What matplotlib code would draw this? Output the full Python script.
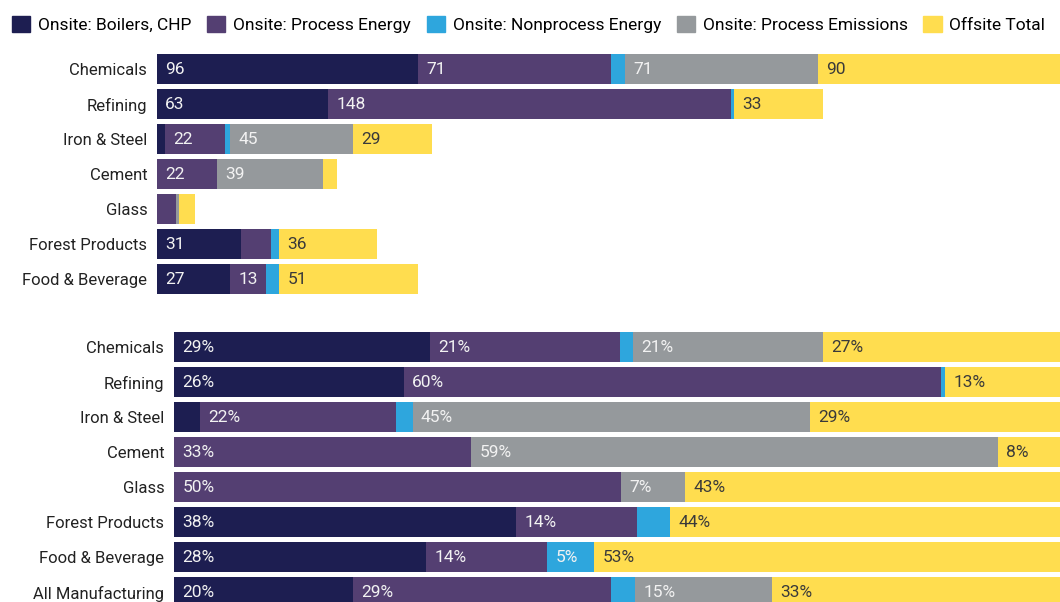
import matplotlib.pyplot as plt
import numpy as np

plt.rcParams["font.family"] = ["Roboto", "DejaVu Sans"]

series = [
    "Onsite: Boilers, CHP",
    "Onsite: Process Energy",
    "Onsite: Nonprocess Energy",
    "Onsite: Process Emissions",
    "Offsite Total",
]
colors = ["#1d1e51", "#543f72", "#2ea6dd", "#95999c", "#ffdd4f"]
text_colors = ["#f2f2f2", "#f2f2f2", "#f2f2f2", "#f2f2f2", "#3a3a3a"]

# top panel: absolute values
top_sectors = ["Chemicals", "Refining", "Iron & Steel", "Cement", "Glass",
               "Forest Products", "Food & Beverage"]
top_boilers = [96, 63, 3, 0, 0, 31, 27]
top_process = [71, 148, 22, 22, 7, 11, 13]
top_nonprocess = [5, 1, 2, 0, 0, 3, 5]
top_emissions = [71, 0, 45, 39, 1, 0, 0]
top_offsite = [90, 33, 29, 5, 6, 36, 51]

# bottom panel: shares (%)
pct_sectors = ["Chemicals", "Refining", "Iron & Steel", "Cement", "Glass",
               "Forest Products", "Food & Beverage", "All Manufacturing"]
pct_boilers = [28.8, 25.8, 2.9, 0, 0, 38.4, 28.3, 20.1]
pct_process = [21.3, 60.4, 22.0, 33.4, 50.2, 13.6, 13.6, 29.0]
pct_nonprocess = [1.5, 0.4, 1.9, 0, 0, 3.7, 5.3, 2.7]
pct_emissions = [21.3, 0, 44.7, 59.2, 7.2, 0, 0, 15.4]
pct_offsite = [27.0, 13.4, 28.8, 7.6, 42.6, 44.3, 52.8, 32.8]

W, H = 1060, 602
fig = plt.figure(figsize=(W / 100, H / 100), dpi=100)


def draw_panel(ax, sectors, cols, min_label, fmt, xmax):
    y = np.arange(len(sectors))
    left = np.zeros(len(sectors))
    for vals, c, tc in zip(cols, colors, text_colors):
        vals = np.array(vals, dtype=float)
        ax.barh(y, vals, left=left, height=0.83, color=c, linewidth=0)
        for yi, l, v in zip(y, left, vals):
            if v >= min_label:
                ax.annotate(fmt(v), (l, yi), xytext=(6, -0.5), textcoords="offset points",
                            ha="left", va="center", fontsize=12.5,
                            color=tc, annotation_clip=False)
        left += vals
    ax.set_yticks(y)
    ax.set_yticklabels(sectors, fontsize=12, color="#222222")
    ax.set_ylim(len(sectors) - 0.5, -0.5)
    ax.set_xlim(0, xmax)
    ax.set_xticks([])
    ax.tick_params(axis="y", length=0, pad=7)
    for s in ax.spines.values():
        s.set_visible(False)


# top axes: rows 35 px apart, first row centre at y=69
ax1 = fig.add_axes([157 / W, 1 - 296.5 / H, (W - 157) / W, 245 / H])
draw_panel(ax1, top_sectors,
           [top_boilers, top_process, top_nonprocess, top_emissions, top_offsite],
           12, lambda v: f"{v:.0f}", (W - 157) / 2.72)

ax2 = fig.add_axes([174 / W, 1 - 609.5 / H, (W - 174) / W, 280 / H])
draw_panel(ax2, pct_sectors,
           [pct_boilers, pct_process, pct_nonprocess, pct_emissions, pct_offsite],
           4.5, lambda v: f"{v:.0f}%", (W - 174) / 8.9)

handles = [plt.Rectangle((0, 0), 1, 1, color=c) for c in colors]
fig.legend(handles, series, loc="upper left", bbox_to_anchor=(0.0, 0.994),
           ncol=5, frameon=False, fontsize=12.5, handlelength=1.05, handleheight=1.1,
           handletextpad=0.45, columnspacing=0.9, borderaxespad=0.3)

fig.savefig("out.png", dpi=100)
